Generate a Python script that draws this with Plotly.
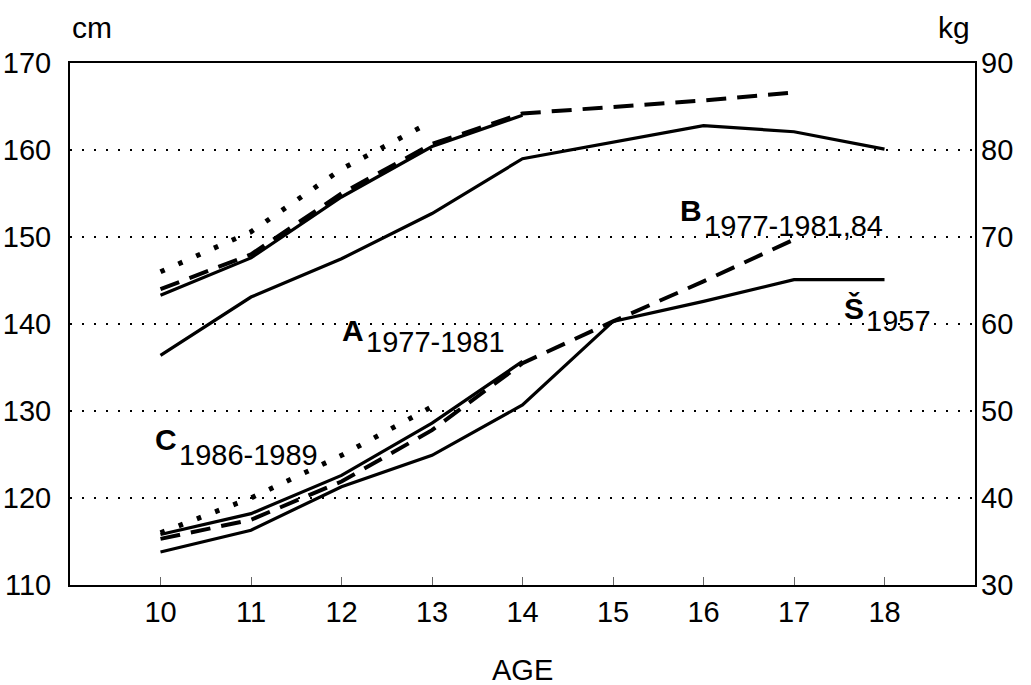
import plotly.graph_objects as go

# ---------------- data ----------------
ages = [10, 11, 12, 13, 14, 15, 16, 17, 18]

# body height (cm, left axis)
height_A = [143.3, 147.6, 154.6, 160.4, 164.0]                      # 1977-1981 (solid)
height_B = [144.0, 148.0, 155.0, 160.7, 164.2, 164.9, 165.7, 166.6]  # 1977-1981,84 (dashed)
height_C = [146.0, 150.6, 157.8, 163.3]                              # 1986-1989 (dotted)
height_S = [136.4, 143.1, 147.5, 152.7, 159.0, 160.9, 162.8, 162.1, 160.1]  # Š 1957 (solid)

# body weight (kg, right axis)
weight_A = [35.8, 38.2, 42.6, 48.6, 55.7]
weight_B = [35.3, 37.5, 41.9, 47.8, 55.5, 60.3, 64.9, 69.7]
weight_C = [36.0, 40.0, 44.9, 50.5]
weight_S = [33.8, 36.3, 41.3, 44.9, 50.7, 60.3, 62.6, 65.1, 65.1]

cm_ticks = [110, 120, 130, 140, 150, 160, 170]
kg_ticks = [30, 40, 50, 60, 70, 80, 90]

# label texts
labels = [
    # letter, subscript, x(age), y letter (cm), y subscript (cm)
    ("A", "1977-1981", 12.26, 139.25, 137.9),
    ("B", "1977-1981,84", 15.99, 153.05, 151.3),
    ("C", "1986-1989", 10.19, 126.7, 124.95),
    ("Š", "1957", 17.78, 141.8, 140.3),
]

FONT = "Liberation Sans, Arial, Helvetica, sans-serif"

# ---------------- figure ----------------
fig = go.Figure()

styles = {
    "A": dict(dash="solid", width=3.2),
    "B": dict(dash="20px,11px", width=4),
    "C": dict(dash="4.5px,15px", width=5),
    "S": dict(dash="solid", width=3.2),
}

series_h = [("A", height_A), ("B", height_B), ("C", height_C), ("S", height_S)]
series_w = [("A", weight_A), ("B", weight_B), ("C", weight_C), ("S", weight_S)]

for key, vals in series_h:
    st = styles[key]
    fig.add_trace(go.Scatter(
        x=ages[:len(vals)], y=vals, mode="lines", yaxis="y",
        line=dict(color="black", width=st["width"], dash=st["dash"]),
        showlegend=False, hoverinfo="skip"))

for key, vals in series_w:
    st = styles[key]
    fig.add_trace(go.Scatter(
        x=ages[:len(vals)], y=vals, mode="lines", yaxis="y2",
        line=dict(color="black", width=st["width"], dash=st["dash"]),
        showlegend=False, hoverinfo="skip"))

annotations = []
for letter, sub, xa, yl, ys in labels:
    annotations.append(dict(
        x=xa, y=yl, xref="x", yref="y", text="<b>" + letter + "</b>",
        showarrow=False, xanchor="right", yanchor="middle",
        font=dict(family=FONT, size=30, color="black"), borderpad=0))
    annotations.append(dict(
        x=xa, y=ys, xref="x", yref="y", text=sub,
        showarrow=False, xanchor="left", yanchor="middle",
        font=dict(family=FONT, size=29, color="black"), borderpad=0))

annotations += [
    dict(x=0.0, y=1.0, xref="paper", yref="paper", text="cm", showarrow=False,
         xanchor="left", yanchor="bottom", yshift=17,
         font=dict(family=FONT, size=30, color="black")),
    dict(x=1.0, y=1.0, xref="paper", yref="paper", text="kg", showarrow=False,
         xanchor="right", yanchor="bottom", yshift=17, xshift=-3,
         font=dict(family=FONT, size=30, color="black")),
    dict(x=0.5, y=0.0, xref="paper", yref="paper", text="AGE", showarrow=False,
         xanchor="center", yanchor="middle", yshift=-85,
         font=dict(family=FONT, size=29, color="black")),
]

fig.update_layout(
    width=1031, height=685,
    margin=dict(l=70, r=56, t=63, b=100),
    paper_bgcolor="white", plot_bgcolor="white",
    font=dict(family=FONT, size=29, color="black"),
    xaxis=dict(
        range=[9, 19], tickvals=ages, ticktext=[str(a) for a in ages],
        ticks="inside", ticklen=8, tickwidth=1, tickcolor="#666",
        showline=True, linecolor="black", linewidth=2, mirror=True,
        showgrid=False, zeroline=False, automargin=False,
        tickfont=dict(family=FONT, size=29, color="black"),
        ticklabelstandoff=0,
    ),
    yaxis=dict(
        range=[110, 170], tickvals=cm_ticks, ticktext=[str(v) for v in cm_ticks],
        showline=True, linecolor="black", linewidth=2, mirror=True,
        showgrid=True, gridcolor="black", gridwidth=2, griddash="2px,10px",
        zeroline=False, ticks="", automargin=False,
        tickfont=dict(family=FONT, size=29, color="black"),
        ticklabelstandoff=11,
    ),
    yaxis2=dict(
        range=[30, 90], tickvals=kg_ticks, ticktext=[str(v) for v in kg_ticks],
        overlaying="y", side="right", showgrid=False, zeroline=False,
        showline=False, ticks="", automargin=False,
        tickfont=dict(family=FONT, size=29, color="black"),
        ticklabelstandoff=5,
    ),
    annotations=annotations,
)

fig.write_html("out.html",
               config={"displayModeBar": False},
               post_script="document.body.style.margin='0';document.body.style.padding='0';")
